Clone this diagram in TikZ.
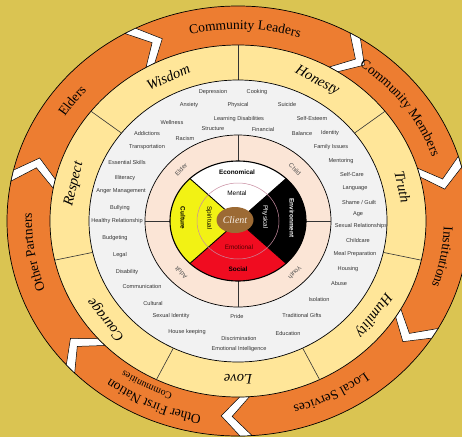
\documentclass[tikz,border=0pt]{standalone}
\usepackage{fontspec}
\setmainfont{Liberation Serif}
\newfontfamily\labelsans{Liberation Sans}
\usetikzlibrary{decorations.text}

\definecolor{bgolive}{RGB}{218,196,82}
\definecolor{ringorange}{RGB}{237,125,49}
\definecolor{ringyellow}{RGB}{255,230,153}
\definecolor{issuegray}{RGB}{242,242,242}
\definecolor{lifepink}{RGB}{251,229,214}
\definecolor{wheelred}{RGB}{240,12,32}
\definecolor{wheelyellow}{RGB}{242,242,20}
\definecolor{clientbrown}{RGB}{156,106,52}
\definecolor{innerline}{RGB}{200,140,160}
\definecolor{issuetext}{RGB}{51,51,51}
\definecolor{emotext}{RGB}{80,0,0}

\newcommand\issuefont{\labelsans\fontsize{5.6}{6}\selectfont}
\newcommand\agefont{\labelsans\fontsize{6.2}{7}\selectfont}
\newcommand\wheelfont{\labelsans\fontsize{6.4}{7}\selectfont}
\newcommand\valuefont{\fontsize{14.5}{14.5}\selectfont\itshape}
\newcommand\partnerfont{\fontsize{13.5}{14}\selectfont}

% text set along a clockwise elliptic arc: font, text, centre angle, x radius, y radius
\newcommand\arctext[5]{%
  \path[decorate,decoration={text along path,text align=center,text color=black,text={|#1|#2}}]
    ({#3+40}:#4pt and #5pt) arc[start angle={#3+40},end angle={#3-40},x radius=#4pt,y radius=#5pt];}

% white chevron gap in the partner ring; #1 = angle of its outer edge
\newcommand\chevronat[1]{%
  \draw[chevron] ({#1+1.5}:231pt and 215pt) -- ({#1-1.5}:231pt and 215pt)
    -- ({#1-6.6}:209.5pt and 195.5pt) -- ({#1-1.5}:188pt and 176pt)
    -- ({#1+1.5}:188pt and 176pt) -- ({#1-3.6}:209.5pt and 195.5pt) -- cycle;}

\tikzset{
  ringline/.style={draw=black,line width=0.7pt},
  chevron/.style={fill=white,draw=black,line width=0.5pt,line join=miter},
  divider/.style={draw=black!80,line width=0.6pt},
  issue/.style={font=\issuefont,text=issuetext,inner sep=0pt},
  agelabel/.style={font=\agefont,text=black!70,inner sep=0pt},
  wheellabel/.style={font=\wheelfont,inner sep=0pt},
  valuelabel/.style={font=\valuefont,inner sep=0pt},
}

\begin{document}
\begin{tikzpicture}[x=1pt,y=1pt]
\useasboundingbox (-238,-216) rectangle (224,221);
\fill[bgolive] (-238,-216) rectangle (224,221);

% partner ring
\path[ringline,fill=ringorange] (0,0) ellipse[x radius=231pt,y radius=215pt];
\foreach \b in {117.8,59.5,16,-31.5,-88,-136.5,167.8} {\chevronat{\b}}

% values ring
\path[ringline,fill=ringyellow] (0,0) ellipse[x radius=188pt,y radius=176pt];
\foreach \a in {90,38.57,-12.86,-64.29,-115.71,-167.14,141.43}
  \draw[divider] (\a:149pt and 141pt) -- (\a:188pt and 176pt);

% issues disc
\path[ringline,fill=issuegray] (0,0) ellipse[x radius=149pt,y radius=141pt];

% life stages ring
\path[ringline,fill=lifepink] (0,0) ellipse[x radius=93pt,y radius=86pt];
\foreach \a in {0,90,180,270}
  \draw[divider] (\a:68pt and 60pt) -- (\a:93pt and 86pt);

% medicine wheel
\fill[white] (0,0) -- (45:68pt and 60pt) arc[start angle=45,end angle=135,x radius=68pt,y radius=60pt] -- cycle;
\fill[black] (0,0) -- (-45:68pt and 60pt) arc[start angle=-45,end angle=45,x radius=68pt,y radius=60pt] -- cycle;
\fill[wheelred] (0,0) -- (-135:68pt and 60pt) arc[start angle=-135,end angle=-45,x radius=68pt,y radius=60pt] -- cycle;
\fill[wheelyellow] (0,0) -- (135:68pt and 60pt) arc[start angle=135,end angle=225,x radius=68pt,y radius=60pt] -- cycle;
\draw[line width=0.9pt] (45:68pt and 60pt) -- (-135:68pt and 60pt);
\draw[line width=0.9pt] (135:68pt and 60pt) -- (-45:68pt and 60pt);
\draw[line width=1.1pt] (0,0) ellipse[x radius=68pt,y radius=60pt];
\draw[innerline,line width=0.5pt] (0,0) ellipse[x radius=41pt,y radius=38pt];
\fill[clientbrown] (-3,1) ellipse[x radius=18.5pt,y radius=13pt];

% wheel labels
\node[wheellabel,font=\wheelfont\bfseries] (economical) at (-1,49) {Economical};
\node[wheellabel] (mental) at (-1,28) {Mental};
\node[wheellabel,font=\wheelfont\bfseries,rotate=-90] (culture) at (-55,3) {Culture};
\node[wheellabel,rotate=-90] (spiritual) at (-29,3) {Spiritual};
\node[wheellabel,font=\wheelfont\bfseries,text=white,rotate=-90] (environment) at (54,3) {Environment};
\node[wheellabel,text=white,rotate=-90] (physical) at (27,4) {Physical};
\node[wheellabel,text=emotext] (emotional) at (1,-26) {Emotional};
\node[wheellabel,font=\wheelfont\bfseries] (social) at (0,-48) {Social};
\node[inner sep=0pt,text=white!90!brown,font=\fontsize{10}{10}\selectfont\itshape] (client) at (-3,1) {Client};

% life stages
\node[agelabel,rotate=45] (elder) at (135:80.5pt and 73pt) {Elder};
\node[agelabel,rotate=-45] (child) at (45:80.5pt and 73pt) {Child};
\node[agelabel,rotate=-135] (youth) at (-45:80.5pt and 73pt) {Youth};
\node[agelabel,rotate=135] (adult) at (-135:80.5pt and 73pt) {Adult};

% issues
\foreach \x/\y/\t [count=\i] in {
  -25/129/Depression, 19/129/Cooking, -49/116/Anxiety, 0/116/Physical,
  49/117/Suicide, -66/99/Wellness, 1/102/Learning Disabilities,
  74/103/Self-Esteem, -91/88/Addictions, -25/92/Structure, 25/92/Financial,
  64/88/Balance, 92/88/Identity, -53/83/Racism, -91/74/Transportation,
  93/74/Family Issues, 103/60/Mentoring, -111/59/Essential Skills,
  114/47/Self-Care, -113/43/Illiteracy, 117/33/Language,
  -117/30/Anger Management, 121/19/{Shame / Guilt}, -118/13/Bullying,
  120/7/Age, -121/0/Healthy Relationship, 123/-5/Sexual Relationships,
  -123/-17/Budgeting, 120/-19/Childcare, -118/-34/Legal,
  117/-33/Meal Preparation, -111/-51/Disability, 110/-48/Housing,
  -96/-65/Communication, 101/-62/Abuse, 81/-78/Isolation, -85/-82/Cultural,
  -67/-95/Sexual Identity, -1/-95/Pride, 64/-94/Traditional Gifts,
  -51/-111/House keeping, 50/-112/Education, 1/-117/Discrimination,
  1/-128/Emotional Intelligence}
  \node[issue] (issue\i) at (\x,\y) {\t};

% values, set round the ring
\foreach \a/\t [count=\i] in {114.5/Wisdom, 62/Honesty, 12.5/Truth,
  -36.5/Humility, -90/Love, -141.5/Courage, 166.5/Respect}
  \node[valuelabel,rotate=\a-90] (value\i) at (\a:168.5pt and 158.5pt) {\t};

% partners
\arctext{\partnerfont}{Community Leaders}{88}{206}{192}
\arctext{\partnerfont}{Community Members}{36}{206}{192}
\arctext{\partnerfont}{Institutions}{-10.4}{206}{192}
\arctext{\partnerfont}{Local Services}{-62.6}{206}{192}
\arctext{\partnerfont}{Other First Nation}{-114}{212}{197}
\arctext{\fontsize{10}{10}\selectfont}{Communities}{-118}{197}{183}
\arctext{\partnerfont}{Other Partners}{189}{206}{192}
\arctext{\partnerfont}{Elders}{143}{206}{192}
\end{tikzpicture}
\end{document}
